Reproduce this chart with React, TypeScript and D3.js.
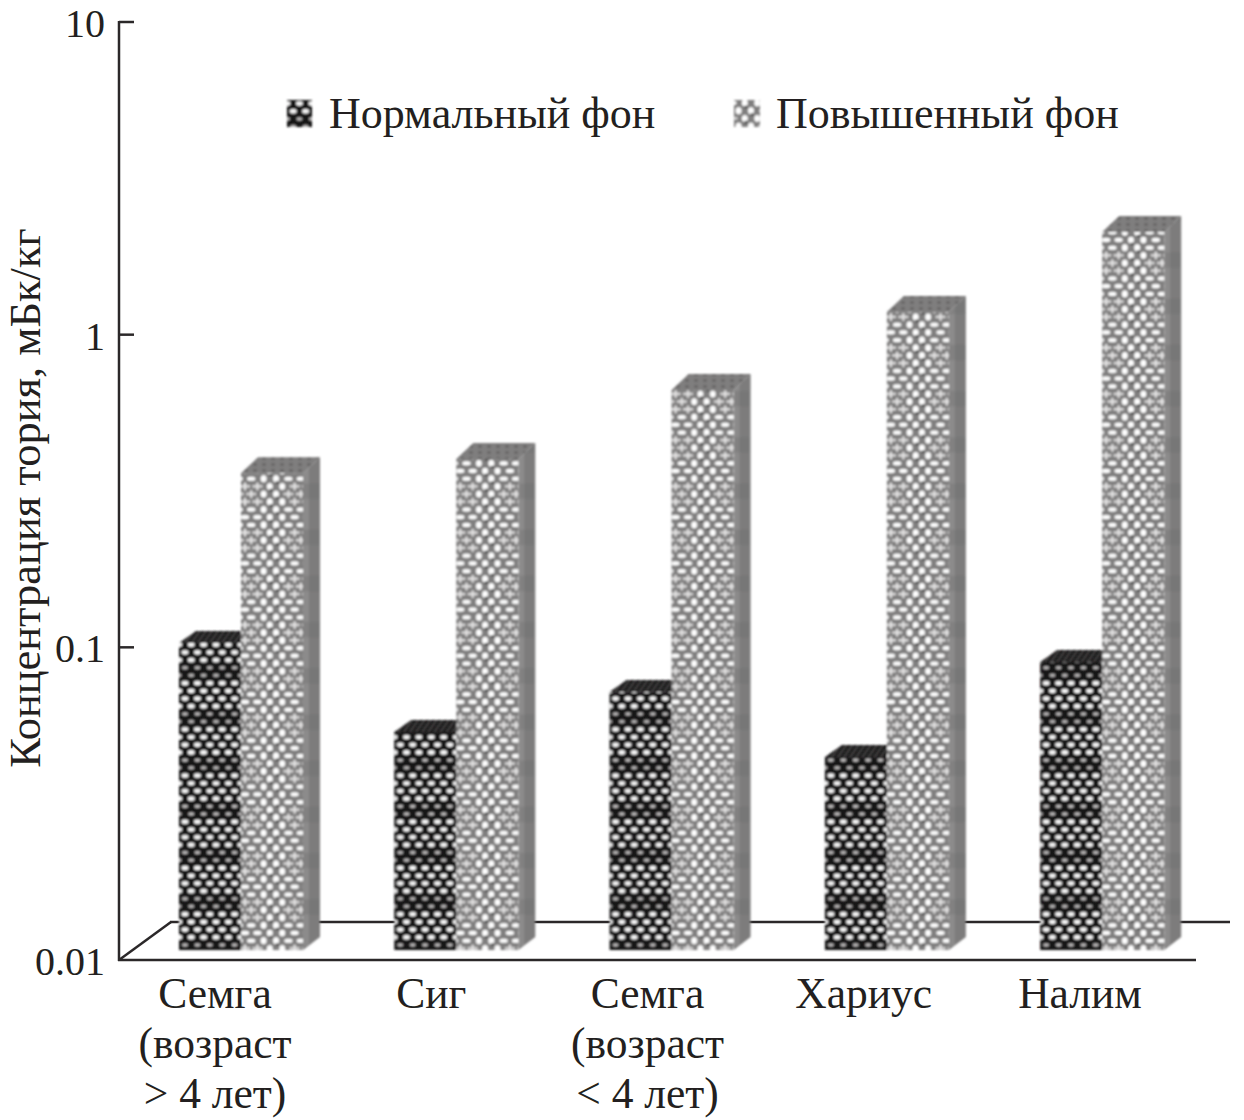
import * as d3 from 'd3'

const categories = [
  ['Семга', '(возраст', '> 4 лет)'],
  ['Сиг'],
  ['Семга', '(возраст', '< 4 лет)'],
  ['Хариус'],
  ['Налим'],
]
const normalBg = [0.096, 0.0498, 0.0668, 0.0414, 0.0834]
const elevatedBg = [0.335, 0.372, 0.618, 1.097, 1.98]
const tickValues = [10, 1, 0.1, 0.01]
const seriesNames = ['Нормальный фон', 'Повышенный фон']

const FONT = '"Liberation Serif", serif'
const INK = '#2b2829'

const y = d3.scaleLog().domain([0.01, 10]).range([960, 22])
const x0 = d3.scaleBand<number>().domain(d3.range(5)).range([179, 1255.5])
const x1 = d3.scaleBand<number>().domain([0, 1]).range([0, 124])
const xLabel = d3.scalePoint<number>().domain(d3.range(5)).range([215, 1080])

// 3d box offsets
const depthX = 17
const depthBottom = 13
const frontShift = -10

const STEP = x0.step()
const ROW = 7.7

// tile repeats once per group so every bar gets the same texture
function DarkPattern({ id, ox, oy }: { id: string; ox: number; oy: number }) {
  return (
    <pattern id={id} width={STEP} height={ROW * 6} patternUnits="userSpaceOnUse" patternTransform={`translate(${ox} ${oy})`}>
      <rect width={STEP} height={ROW * 6} fill="#151314" />
      {d3.range(6).map(r =>
        d3.range(-1, 6).map(c => {
          const dim = r === 2 || r === 3
          return (
            <ellipse
              key={`${r}-${c}`}
              cx={c * 12.4 + (r % 2 ? 6.2 : 0) + 6}
              cy={r * ROW + 3.5}
              rx={dim ? 3 : 3.5}
              ry={dim ? 1.7 : 2.3}
              fill={dim ? '#c0bebe' : '#f8f8f8'}
            />
          )
        }),
      )}
    </pattern>
  )
}

function LightPattern({ id, ox, oy }: { id: string; ox: number; oy: number }) {
  return (
    <pattern id={id} width={STEP} height={ROW * 6} patternUnits="userSpaceOnUse" patternTransform={`translate(${ox} ${oy})`}>
      <rect width={STEP} height={ROW * 6} fill="#7f7e7e" />
      {d3.range(6).map(r =>
        d3.range(-1, 6).map(c => {
          const cx = c * 12.4 + (r % 2 ? 6.2 : 0) + 4
          const inCentre = cx > 22 && cx < 42
          const band = r === 2 || r === 3 || r === 4
          if (inCentre) {
            return <ellipse key={`${r}-${c}`} cx={cx} cy={r * ROW + 3} rx={3} ry={3.5} fill="#ffffff" />
          }
          if (band) {
            return (
              <g key={`${r}-${c}`} fill="#e6e5e5">
                <rect x={cx - 5} y={r * ROW + 1.8} width={10} height={2.2} />
                <rect x={cx - 1.1} y={r * ROW - 0.8} width={2.2} height={7.6} />
              </g>
            )
          }
          return <ellipse key={`${r}-${c}`} cx={cx} cy={r * ROW + 3} rx={4.2} ry={2.2} fill="#fdfdfd" />
        }),
      )}
      {d3.range(6).map(r => (
        <circle key={r} cx={r % 2 ? 36 : 29.8} cy={r * ROW + 6.9} r={1.3} fill="#333" />
      ))}
    </pattern>
  )
}

function Bar({ cx, w, value, fill, top, side, depthTop }: { cx: number; w: number; value: number; fill: string; top: string; side?: string; depthTop: number }) {
  const yTop = y(value) + frontShift
  const yBot = y(0.01) + frontShift
  return (
    <g>
      {side && (
        <polygon
          points={`${cx + w},${yTop} ${cx + w + depthX},${yTop - depthTop} ${cx + w + depthX},${yBot - depthBottom} ${cx + w},${yBot}`}
          fill={side}
        />
      )}
      <polygon
        points={`${cx},${yTop} ${cx + depthX},${yTop - depthTop} ${cx + w + depthX},${yTop - depthTop} ${cx + w},${yTop}`}
        fill={top}
      />
      <rect x={cx} y={yTop} width={w} height={yBot - yTop} fill={fill} />
    </g>
  )
}

export default function App() {
  const w = x1.bandwidth()
  return (
    <svg width={1244} height={1120} style={{ position: 'absolute', left: 0, top: 0, background: '#fff' }} fontFamily={FONT} fill="#231f20">
      <defs>
        <DarkPattern id="dark" ox={179} oy={2} />
        <LightPattern id="light" ox={241} oy={6} />
        <DarkPattern id="darkKey" ox={281} oy={100} />
        <LightPattern id="lightKey" ox={716} oy={100} />
        <pattern id="side" width={STEP} height={ROW * 6} patternUnits="userSpaceOnUse" patternTransform="translate(303 6)">
          <rect width={STEP} height={ROW * 6} fill="#8c8b8b" />
          <rect x={6} width={11} height={ROW * 6} fill="#7d7c7c" />
          <rect x={0} y={ROW * 2} width={17} height={ROW * 2} fill="#6a6969" opacity={0.3} />
        </pattern>
        <pattern id="topDark" width={5} height={5} patternUnits="userSpaceOnUse" patternTransform="rotate(35)">
          <rect width={5} height={5} fill="#1f1d1e" />
          <rect width={1.2} height={5} fill="#504e4e" />
        </pattern>
        <pattern id="topLight" width={9} height={6} patternUnits="userSpaceOnUse">
          <rect width={9} height={6} fill="#7f7e7e" />
          <rect x={1} y={1} width={4} height={3} fill="#6c6b6b" />
        </pattern>
        <filter id="soft" x="-5%" y="-5%" width="110%" height="110%">
          <feGaussianBlur stdDeviation="0.8" />
        </filter>
      </defs>

      {/* back wall and floor */}
      <line x1={119} y1={960} x2={171} y2={922} stroke={INK} strokeWidth={2.5} />
      <line x1={170} y1={922} x2={1230} y2={922} stroke={INK} strokeWidth={2.5} />

      <g filter="url(#soft)">
        {categories.map((_, i) => (
          <g key={i}>
            <Bar cx={(x0(i) as number) + (x1(0) as number)} w={w} value={normalBg[i]} fill="url(#dark)" top="url(#topDark)" depthTop={12} />
            <Bar cx={(x0(i) as number) + (x1(1) as number)} w={w} value={elevatedBg[i]} fill="url(#light)" top="url(#topLight)" side="url(#side)" depthTop={16} />
          </g>
        ))}
      </g>

      {/* axes */}
      <line x1={119} y1={21} x2={119} y2={961} stroke={INK} strokeWidth={2.5} />
      <line x1={118} y1={960} x2={1196} y2={960} stroke={INK} strokeWidth={2.5} />
      {tickValues.map(t => (
        <g key={t}>
          {t !== 0.01 && <line x1={119} x2={134} y1={y(t)} y2={y(t)} stroke={INK} strokeWidth={2.5} />}
          <text x={105} y={y(t) + 15} textAnchor="end" fontSize={40}>
            {t}
          </text>
        </g>
      ))}

      <text transform="translate(40 498) rotate(-90)" textAnchor="middle" fontSize={44.5}>
        Концентрация тория, мБк/кг
      </text>

      {categories.map((lines, i) => (
        <text key={i} textAnchor="middle" fontSize={43.5}>
          {lines.map((l, j) => (
            <tspan key={j} x={xLabel(i)} y={1008 + j * 50}>
              {l}
            </tspan>
          ))}
        </text>
      ))}

      {/* legend */}
      <g filter="url(#soft)">
        <rect x={287} y={100} width={25} height={27} fill="url(#darkKey)" />
        <rect x={734} y={100} width={26} height={27} fill="url(#lightKey)" />
      </g>
      <text x={329} y={128} fontSize={44}>{seriesNames[0]}</text>
      <text x={776} y={128} fontSize={44}>{seriesNames[1]}</text>
    </svg>
  )
}
